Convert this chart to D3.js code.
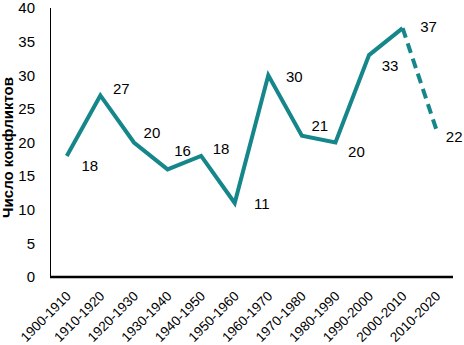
<!DOCTYPE html>
<html>
<head>
<meta charset="utf-8">
<script src="https://cdn.jsdelivr.net/npm/d3@7"></script>
<style>
  body { margin: 0; background: #fff; }
  svg { display: block; font-family: "Liberation Sans", Arial, sans-serif; }
</style>
</head>
<body>
<svg id="chart" width="464" height="345"></svg>
<script>
// decades and number of conflicts per decade
const decades = ['1900-1910', '1910-1920', '1920-1930', '1930-1940', '1940-1950', '1950-1960',
                 '1960-1970', '1970-1980', '1980-1990', '1990-2000', '2000-2010', '2010-2020'];
const conflicts = [18, 27, 20, 16, 18, 11, 30, 21, 20, 33, 37, 22];
const forecastFrom = '2000-2010'; // segment after this one is dashed
const yTicks = [0, 5, 10, 15, 20, 25, 30, 35, 40];
const yTitle = 'Число конфликтов';

// hand-placed data label nudges (px), as in the original chart
const labelDx = [23, 21, 18, 15, 20, 27, 26, 18, 21, 21, 26, 18];
const labelDy = [10, -7, -10, -19, -7, 1, 1, -10, 9, 11, -1, 8];

const svg = d3.select('#chart');
const plotL = 50, plotR = 453, plotT = 8, plotB = 277;
const teal = '#15878a';

let x = d3.scaleBand().domain(decades).range([plotL, plotR]);
let y = d3.scaleLinear().domain([0, 40]).range([plotB, plotT]);
let cx = d => x(d) + x.bandwidth() / 2;

// y tick labels
svg.append('g').selectAll('text')
   .data(yTicks).join('text')
   .attr('x', 35)
   .attr('y', d => y(d))
   .attr('dy', '0.35em')
   .attr('text-anchor', 'end')
   .style('font-size', '15px')
   .style('fill', '#000')
   .text(d => d);

// axis lines
svg.append('line')
   .attr('x1', plotL + 0.5).attr('x2', plotL + 0.5)
   .attr('y1', plotT).attr('y2', plotB)
   .style('stroke', '#000').style('stroke-width', 1);
svg.append('line')
   .attr('x1', plotL).attr('x2', plotR)
   .attr('y1', plotB).attr('y2', plotB)
   .style('stroke', '#000').style('stroke-width', 2.5);

// x tick labels, rotated
svg.append('g').selectAll('text')
   .data(decades).join('text')
   .attr('transform', d => 'translate(' + (cx(d) + 5) + ',' + (plotB + 20) + ') rotate(-45)')
   .attr('text-anchor', 'end')
   .style('font-size', '13.5px')
   .style('fill', '#000')
   .text(d => d);

// y title
svg.append('text')
   .attr('transform', 'translate(13,' + ((plotT + plotB) / 2 + 5) + ') rotate(-90)')
   .attr('text-anchor', 'middle')
   .style('font-size', '15px')
   .style('font-weight', 'bold')
   .text(yTitle);

// line: solid part and dashed forecast part
let pts = decades.map((d, i) => ({ d: d, v: conflicts[i] }));
let cut = decades.indexOf(forecastFrom);
let line = d3.line().x(p => cx(p.d)).y(p => y(p.v));

svg.append('path')
   .datum(pts.slice(0, cut + 1))
   .attr('d', line)
   .style('fill', 'none')
   .style('stroke', teal)
   .style('stroke-width', 4)
   .style('stroke-linejoin', 'miter');

svg.append('path')
   .datum(pts.slice(cut))
   .attr('d', line)
   .style('fill', 'none')
   .style('stroke', teal)
   .style('stroke-width', 4)
   .style('stroke-dasharray', '10,6');

// data labels
svg.append('g').selectAll('text')
   .data(pts).join('text')
   .attr('x', (p, i) => cx(p.d) + labelDx[i])
   .attr('y', (p, i) => y(p.v) + labelDy[i])
   .attr('dy', '0.35em')
   .attr('text-anchor', 'middle')
   .style('font-size', '15px')
   .style('fill', '#000')
   .text(p => p.v);
</script>
</body>
</html>
